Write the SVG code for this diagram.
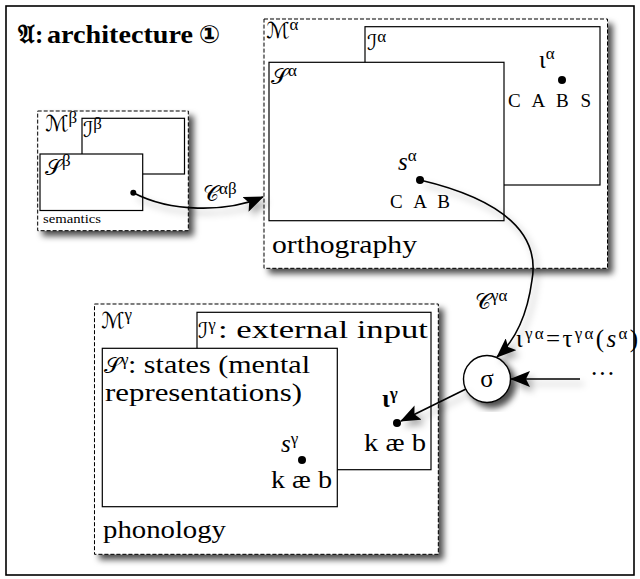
<svg xmlns="http://www.w3.org/2000/svg" width="640" height="579" viewBox="0 0 640 579">
<defs>
<style>
text{font-family:"Liberation Serif","DejaVu Sans","Noto Sans CJK JP",serif;font-size:25px;fill:#000}
.sc{font-family:"DejaVu Sans",sans-serif;font-size:22px;font-style:normal;font-weight:normal}
.sup{font-size:17px}
.it{font-style:italic}
.caps{font-size:19px}
.small{font-size:12px}
.mod{fill:#fff;stroke:#000;stroke-width:1;stroke-dasharray:4 2}
.box{fill:#fff;stroke:#000;stroke-width:1.2}
.con{fill:none;stroke:#000;stroke-width:1.6}
</style>
<filter id="sh" x="-10%" y="-10%" width="130%" height="130%">
<feDropShadow dx="5" dy="5" stdDeviation="3" flood-color="#000" flood-opacity="0.7"/>
</filter>
<filter id="shl" x="-20%" y="-20%" width="150%" height="150%">
<feDropShadow dx="4" dy="5" stdDeviation="3.5" flood-color="#000" flood-opacity="0.35"/>
</filter>
<marker id="ah" viewBox="0 0 20 16" refX="19" refY="8" markerWidth="20" markerHeight="16" orient="auto" markerUnits="userSpaceOnUse">
<path d="M0,0 L20,8 L0,16 L4,8 z" fill="#000"/>
</marker>
</defs>
<rect x="0" y="0" width="640" height="579" fill="#fff"/>
<rect id="frame" x="6" y="6" width="628" height="569" fill="none" stroke="#000" stroke-width="1.6"/>
<g id="title">
<text x="18" y="43" font-size="24" font-weight="bold">𝔄:</text>
<text x="47" y="43" font-size="24" font-weight="bold" textLength="146" lengthAdjust="spacingAndGlyphs">architecture</text>
<text x="199" y="43" font-size="22" font-weight="bold">①</text>
</g>

<g id="module-beta">
<rect class="mod" x="37.7" y="111" width="150.6" height="119.7" filter="url(#sh)"/>
<rect class="box" x="82" y="118.3" width="102.5" height="55.7"/>
<rect class="box" x="40" y="154" width="102.7" height="56.5"/>
<text x="45" y="131"><tspan class="sc">ℳ</tspan><tspan class="sup" dy="-8">β</tspan></text>
<text x="83" y="137"><tspan class="sc">ℐ</tspan><tspan class="sup" dy="-8">β</tspan></text>
<text x="45" y="175"><tspan class="sc">𝒮</tspan><tspan class="sup" dy="-9">β</tspan></text>
<circle cx="133.3" cy="192.7" r="3"/>
<text class="small" x="43" y="222.5" textLength="58" lengthAdjust="spacingAndGlyphs">semantics</text>
</g>

<g id="module-alpha">
<rect class="mod" x="264" y="19" width="343.5" height="249.3" filter="url(#sh)"/>
<rect class="box" x="365" y="26.7" width="235" height="158.3"/>
<rect class="box" x="269" y="62.3" width="235" height="158.4"/>
<text x="266" y="38"><tspan class="sc">ℳ</tspan><tspan class="sup" dy="-8">α</tspan></text>
<text x="367" y="50"><tspan class="sc">ℐ</tspan><tspan class="sup" dy="-8">α</tspan></text>
<text x="271" y="84"><tspan class="sc">𝒮</tspan><tspan class="sup" dy="-8">α</tspan></text>
<text x="398" y="170"><tspan class="it">s</tspan><tspan class="sup" dy="-9">α</tspan></text>
<circle cx="420" cy="180" r="4"/>
<text class="caps" x="390" y="208" textLength="60" lengthAdjust="spacing">C A B</text>
<text x="539" y="68">ι<tspan class="sup" dy="-9">α</tspan></text>
<circle cx="562" cy="80" r="4"/>
<text class="caps" x="508" y="107" textLength="83" lengthAdjust="spacing">C A B S</text>
<text x="272" y="253" textLength="145" lengthAdjust="spacingAndGlyphs">orthography</text>
</g>

<g id="module-gamma">
<rect class="mod" x="94.5" y="304" width="343.8" height="250.3" filter="url(#sh)"/>
<rect class="box" x="197" y="312.3" width="234" height="157.4"/>
<rect class="box" x="102.3" y="348.3" width="235" height="158.4"/>
<text x="101" y="328"><tspan class="sc">ℳ</tspan><tspan class="sup" dy="-8">γ</tspan></text>
<text x="198" y="338"><tspan class="sc">ℐ</tspan><tspan class="sup" dy="-8">γ</tspan></text>
<text x="218" y="338" textLength="210" lengthAdjust="spacingAndGlyphs">: external input</text>
<text x="104" y="373"><tspan class="sc">𝒮</tspan><tspan class="sup" dy="-8">γ</tspan></text>
<text x="128" y="373" textLength="182" lengthAdjust="spacingAndGlyphs">: states (mental</text>
<text x="105" y="401" textLength="197" lengthAdjust="spacingAndGlyphs">representations)</text>
<text x="281" y="452"><tspan class="it">s</tspan><tspan class="sup" dy="-8">γ</tspan></text>
<circle cx="302" cy="460" r="4"/>
<text x="271" y="488" textLength="61" lengthAdjust="spacingAndGlyphs">k æ b</text>
<text x="382" y="407" font-weight="bold">ι<tspan class="sup" dy="-8">γ</tspan></text>
<circle cx="397" cy="423" r="4"/>
<text x="364" y="451" textLength="62" lengthAdjust="spacingAndGlyphs">k æ b</text>
<text x="103" y="538" textLength="123" lengthAdjust="spacingAndGlyphs">phonology</text>
</g>

<g id="sigma">
<circle cx="487" cy="379" r="23.5" fill="#fff" stroke="#000" stroke-width="1.4" filter="url(#sh)"/>
<text x="487" y="387" text-anchor="middle" font-size="26">σ</text>
</g>

<g id="connectors" filter="url(#shl)">
<path class="con" d="M133.3,192.7 C170,212 225,213 263,197" marker-end="url(#ah)"/>
<path class="con" d="M420,180 C505,200 540,235 532,280 C528,310 518,338 497,357" marker-end="url(#ah)"/>
<path class="con" d="M466,389 L401,421" marker-end="url(#ah)"/>
<path class="con" d="M580,379 L511,379" marker-end="url(#ah)"/>
</g>

<g id="labels">
<text x="203" y="201"><tspan class="sc">𝒞</tspan><tspan class="sup" dy="-7">αβ</tspan></text>
<text x="475" y="309"><tspan class="sc">𝒞</tspan><tspan class="sup" dy="-8">γα</tspan></text>
<text x="516" y="347" textLength="122" lengthAdjust="spacing">ι<tspan class="sup" dy="-8">γα</tspan><tspan dy="8">=τ</tspan><tspan class="sup" dy="-8">γα</tspan><tspan dy="8">(</tspan><tspan class="it">s</tspan><tspan class="sup" dy="-8">α</tspan><tspan dy="8">)</tspan></text>
<text x="590" y="382">···</text>
</g>
</svg>
